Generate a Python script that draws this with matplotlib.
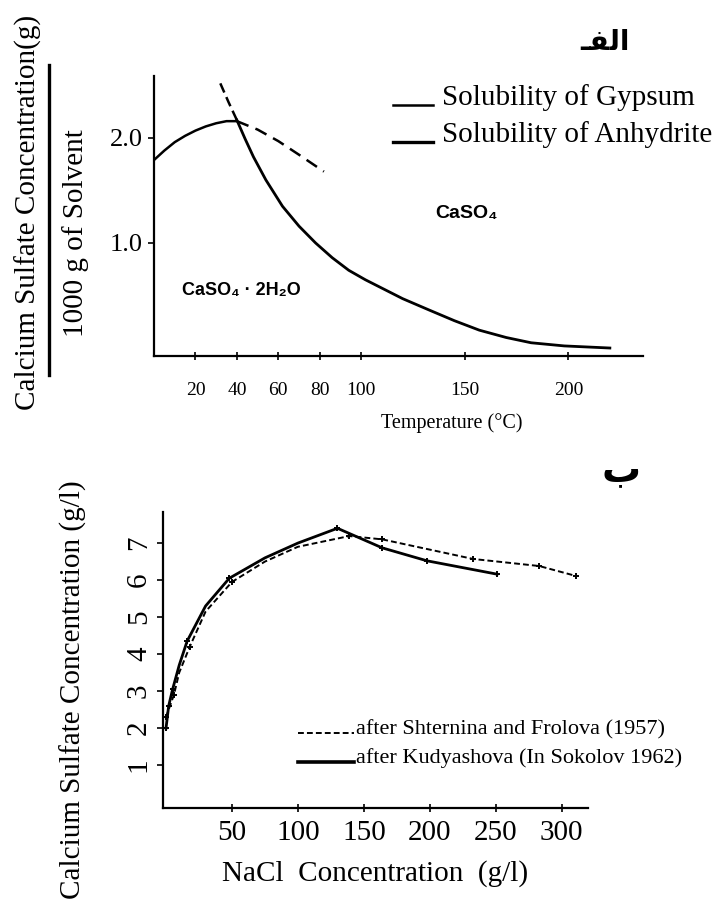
"""Calcium sulfate solubility: temperature (top) and NaCl concentration (bottom)."""

import matplotlib

matplotlib.use("Agg")
import matplotlib.pyplot as plt
from matplotlib.lines import Line2D

SERIF = ["Liberation Serif", "DejaVu Serif"]
SANS_BOLD = ["Liberation Sans", "DejaVu Sans"]

# top panel: solubility vs temperature (g / 1000 g of solvent)
gypsum_stable_t = [0, 5, 10, 15, 20, 25, 30, 35, 40]
gypsum_stable_v = [1.79, 1.88, 1.96, 2.02, 2.07, 2.11, 2.14, 2.16, 2.16]
gypsum_meta_t = [40, 50, 60, 70, 82]
gypsum_meta_v = [2.16, 2.08, 1.97, 1.84, 1.68]
anhydrite_meta_t = [32, 36, 40]
anhydrite_meta_v = [2.52, 2.34, 2.17]
anhydrite_stable_t = [40, 44, 48, 54, 62, 70, 78, 86, 94, 102, 110, 120, 133, 145,
                      157, 170, 182, 198, 220]
anhydrite_stable_v = [2.17, 1.99, 1.82, 1.60, 1.35, 1.16, 1.00, 0.86, 0.74, 0.65,
                      0.57, 0.47, 0.36, 0.26, 0.17, 0.10, 0.05, 0.02, 0.0]
temp_ticks = [20, 40, 60, 80, 100, 150, 200]
conc_ticks_top = [1.0, 2.0]
top_labels = ["Solubility of Gypsum", "Solubility of Anhydrite"]

# bottom panel: solubility vs NaCl concentration (g/l)
shternina_x = [0, 3, 6, 10, 18, 30, 50, 75, 100, 139, 164, 233, 283, 311]
shternina_v = [2.3, 2.6, 2.9, 3.5, 4.2, 5.15, 5.95, 6.5, 6.9, 7.19, 7.1, 6.57, 6.38, 6.11]
shternina_marks = [0, 2, 4, 6, 9, 10, 11, 12, 13]
kudyashova_x = [0, 2, 5, 10, 16, 30, 48, 75, 100, 130, 164, 198, 251]
kudyashova_v = [2.0, 2.6, 3.05, 3.7, 4.35, 5.3, 6.05, 6.6, 7.0, 7.4, 6.87, 6.52, 6.16]
kudyashova_marks = [0, 1, 2, 4, 6, 9, 10, 11, 12]
nacl_ticks = [50, 100, 150, 200, 250, 300]
conc_ticks_bottom = [1, 2, 3, 4, 5, 6, 7]
bottom_labels = ["after Shternina and Frolova (1957)",
                 "after Kudyashova (In Sokolov 1962)"]

W, H = 723, 902
fig = plt.figure(figsize=(W / 100, H / 100), dpi=100)


def box(left, top, right, bottom):
    return [left / W, 1 - bottom / H, (right - left) / W, (bottom - top) / H]


def fx(px):
    return px / W


def fy(px):
    return 1 - px / H


def style_axes(ax):
    for side in ("top", "right"):
        ax.spines[side].set_visible(False)
    for side in ("left", "bottom"):
        ax.spines[side].set_linewidth(1.6)


# ---- top panel
ax1 = fig.add_axes(box(154, 76, 643, 356))
style_axes(ax1)
ax1.plot(gypsum_stable_t, gypsum_stable_v, color="black", lw=1.8)
ax1.plot(gypsum_meta_t, gypsum_meta_v, color="black", lw=1.8, ls=(0, (5, 3)))
ax1.plot(anhydrite_meta_t, anhydrite_meta_v, color="black", lw=1.8, ls=(0, (4, 2)))
ax1.plot(anhydrite_stable_t, anhydrite_stable_v, color="black", lw=2.0)
ax1.set_xlim(0, 236)
ax1.set_ylim(-0.076, 2.59)
ax1.set_xticks(temp_ticks)
ax1.set_xticklabels([str(t) for t in temp_ticks], family=SERIF, fontsize=14)
ax1.set_yticks(conc_ticks_top)
ax1.set_yticklabels([f"{v:.1f}" for v in conc_ticks_top], family=SERIF, fontsize=19)
ax1.tick_params(axis="x", direction="inout", length=6, width=1.2, pad=16)
ax1.tick_params(axis="y", direction="out", length=4, width=1.2, pad=4)
ax1.text(0.609, -0.24, "Temperature (°C)", transform=ax1.transAxes,
         ha="center", va="center", family=SERIF, fontsize=14.5)
ax1.text(0.057, 0.235, "CaSO\u2084 \u00b7 2H\u2082O", transform=ax1.transAxes,
         ha="left", va="center", family=SANS_BOLD, fontsize=13, fontweight="bold")
ax1.text(0.576, 0.51, "CaSO\u2084", transform=ax1.transAxes,
         ha="left", va="center", family=SANS_BOLD, fontsize=14, fontweight="bold")

# top legend: two short solid strokes with labels
for label, base, lw in zip(top_labels, [105, 142], [1.8, 2.4]):
    fig.add_artist(Line2D([fx(393), fx(433)], [fy(base), fy(base)], color="black", lw=lw))
    fig.text(fx(442), fy(base), label, ha="left", va="baseline",
             family=SERIF, fontsize=21)

# two-line (fraction) y label
fig.text(fx(28), fy(212), "Calcium Sulfate Concentration(g)", rotation=90,
         ha="center", va="center", family=SERIF, fontsize=21)
fig.add_artist(Line2D([fx(49), fx(49)], [fy(65), fy(375)], color="black", lw=2.4))
fig.text(fx(76), fy(233), "1000 g of Solvent", rotation=90,
         ha="center", va="center", family=SERIF, fontsize=21)
fig.text(fx(605), fy(42), "\u0640\ufed4\ufedf\ufe8d", ha="center", va="center",
         family=["DejaVu Sans"], fontsize=20, fontweight="bold")

# ---- bottom panel
ax2 = fig.add_axes(box(163, 512, 588, 808))
style_axes(ax2)
ax2.plot(shternina_x, shternina_v, color="black", lw=1.4, ls=(0, (3, 1.6)),
         marker="+", ms=5, mew=1.4, markevery=shternina_marks)
ax2.plot(kudyashova_x, kudyashova_v, color="black", lw=2.0,
         marker="+", ms=5, mew=1.4, markevery=kudyashova_marks)
ax2.set_xlim(-2.3, 320)
ax2.set_ylim(-0.16, 7.84)
ax2.set_xticks(nacl_ticks)
ax2.set_xticklabels([str(t) for t in nacl_ticks], family=SERIF, fontsize=21)
ax2.set_yticks(conc_ticks_bottom)
ax2.set_yticklabels([str(v) for v in conc_ticks_bottom], family=SERIF, fontsize=21,
                    rotation=90, va="center")
ax2.tick_params(axis="x", direction="inout", length=6, width=1.2, pad=6)
ax2.tick_params(axis="y", direction="out", length=4, width=1.2, pad=4)
ax2.text(0.5, -0.22, "NaCl  Concentration  (g/l)", transform=ax2.transAxes,
         ha="center", va="center", family=SERIF, fontsize=21)
fig.text(fx(73), fy(690), "Calcium Sulfate Concentration (g/l)", rotation=90,
         ha="center", va="center", family=SERIF, fontsize=21)

# bottom legend
for label, base, ls, lw in zip(bottom_labels, [733, 762],
                               [(0, (3, 1.6)), "-"], [1.4, 2.6]):
    fig.add_artist(Line2D([fx(298), fx(354)], [fy(base), fy(base)],
                          color="black", lw=lw, ls=ls))
    fig.text(fx(356), fy(base + 1), label, ha="left", va="baseline",
             family=SERIF, fontsize=16)
fig.text(fx(621), fy(470), "\u0628", ha="center", va="center",
         family=["DejaVu Sans"], fontsize=28, fontweight="bold")

fig.savefig("out.png", dpi=100)
